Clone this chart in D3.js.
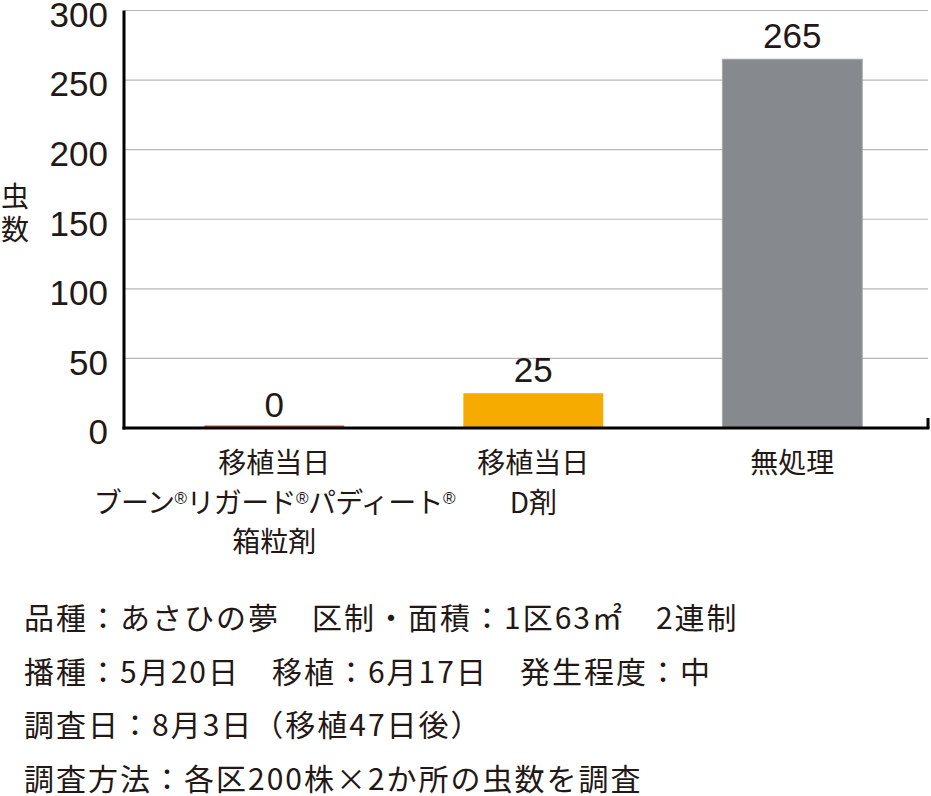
<!DOCTYPE html>
<html>
<head>
<meta charset="utf-8">
<script src="https://cdn.jsdelivr.net/npm/d3@7"></script>
<style>
  body { margin: 0; background: #fff; }
  svg text { fill: #231815; }
</style>
</head>
<body>
<div id="plot"></div>
<script>
// Chart data
var categories = ["a", "b", "c"];
var categoryLines = [
  ["移植当日", "ブーン®リガード®パディート®", "箱粒剤"],
  ["移植当日", "D剤"],
  ["無処理"]
];
var values = [0, 25, 265];
var barColors = ["#e0562a", "#f5ab00", "#868a8e"];
var yTicks = [0, 50, 100, 150, 200, 250, 300];
var yLabel = ["虫", "数"];
var notes = [
  "品種：あさひの夢　区制・面積：1区63㎡　2連制",
  "播種：5月20日　移植：6月17日　発生程度：中",
  "調査日：8月3日（移植47日後）",
  "調査方法：各区200株×2か所の虫数を調査"
];

// SVG area
var svgWidth = 931;
var svgHeight = 796;

var chartMargin = { top: 10.5, right: 3, bottom: 368, left: 124 };
var chartWidth = svgWidth - chartMargin.left - chartMargin.right;
var chartHeight = svgHeight - chartMargin.top - chartMargin.bottom;

var svg = d3.select("#plot")
  .append("svg")
  .attr("width", svgWidth)
  .attr("height", svgHeight);

var chartGroup = svg.append("g")
  .attr("transform", `translate(${chartMargin.left}, ${chartMargin.top})`);

var latin = "'Liberation Sans', Arial, sans-serif";
var cjk = "'Noto Sans CJK JP', sans-serif";

// Scales
var xBandScale = d3.scaleBand()
  .domain(categories)
  .range([0, chartWidth])
  .paddingInner(0.46)
  .paddingOuter(0.282)
  .align(0.55);

var yLinearScale = d3.scaleLinear()
  .domain([0, 300])
  .range([chartHeight, 0]);

// gridlines
chartGroup.append("g")
  .selectAll("line")
  .data(yTicks.slice(1))
  .enter()
  .append("line")
  .attr("x1", 0)
  .attr("x2", chartWidth)
  .attr("y1", d => yLinearScale(d))
  .attr("y2", d => yLinearScale(d))
  .attr("stroke", "#b8b8b8")
  .attr("stroke-width", 1.2);

// left axis
var leftAxis = d3.axisLeft(yLinearScale).tickValues(yTicks).tickSize(0).tickPadding(16);
var yAxisG = chartGroup.append("g").call(leftAxis);
yAxisG.select(".domain").remove();
yAxisG.selectAll("text")
  .attr("font-family", latin)
  .attr("font-size", 35)
  .attr("dy", "0.45em")
  .style("fill", "#231815");

chartGroup.append("line")
  .attr("x1", 0).attr("x2", 0)
  .attr("y1", 0).attr("y2", chartHeight + 1.5)
  .attr("stroke", "#000")
  .attr("stroke-width", 3);

// bars
chartGroup.selectAll(".bar")
  .data(values)
  .enter()
  .append("rect")
  .attr("class", "bar")
  .attr("x", (d, i) => xBandScale(categories[i]))
  .attr("y", d => Math.min(yLinearScale(d), chartHeight - 2.5))
  .attr("width", xBandScale.bandwidth())
  .attr("height", d => Math.max(chartHeight - yLinearScale(d), 2.5))
  .attr("fill", (d, i) => barColors[i])
  .attr("stroke", (d, i) => i == 2 ? "#a3a7aa" : "none")
  .attr("stroke-width", 1);

// value labels
chartGroup.selectAll(".val")
  .data(values)
  .enter()
  .append("text")
  .attr("class", "val")
  .attr("x", (d, i) => xBandScale(categories[i]) + xBandScale.bandwidth() / 2)
  .attr("y", d => yLinearScale(d) - 11)
  .attr("text-anchor", "middle")
  .attr("font-family", latin)
  .attr("font-size", 35)
  .text(d => d);

// bottom axis
chartGroup.append("line")
  .attr("x1", -1.5).attr("x2", chartWidth + 1.5)
  .attr("y1", chartHeight).attr("y2", chartHeight)
  .attr("stroke", "#000")
  .attr("stroke-width", 3);
chartGroup.append("line")
  .attr("x1", chartWidth).attr("x2", chartWidth)
  .attr("y1", chartHeight - 10).attr("y2", chartHeight)
  .attr("stroke", "#000")
  .attr("stroke-width", 3);

// category labels, one text per line, ® as small raised tspan
categoryLines.forEach(function(lines, i) {
  var cx = xBandScale(categories[i]) + xBandScale.bandwidth() / 2;
  lines.forEach(function(line, j) {
    var t = chartGroup.append("text")
      .attr("x", cx)
      .attr("y", chartHeight + 45 + j * 39.5)
      .attr("text-anchor", "middle")
      .attr("font-family", cjk)
      .attr("font-size", 28)
      .attr("letter-spacing", line.indexOf("®") >= 0 ? -0.6 : 0);
    line.split("®").forEach(function(part, k, arr) {
      t.append("tspan").text(part);
      if (k < arr.length - 1) {
        t.append("tspan")
          .attr("font-size", 17)
          .attr("font-family", latin)
          .attr("baseline-shift", "9")
          .text("®");
      }
    });
  });
});

// y label
yLabel.forEach(function(ch, i) {
  svg.append("text")
    .attr("x", 1)
    .attr("y", 207 + i * 33)
    .attr("font-family", cjk)
    .attr("font-size", 28)
    .text(ch);
});

// notes
svg.append("g")
  .selectAll("text")
  .data(notes)
  .enter()
  .append("text")
  .attr("x", 24)
  .attr("y", (d, i) => 629 + i * 53.7)
  .attr("font-family", cjk)
  .attr("font-size", 30)
  .attr("letter-spacing", 2)
  .text(d => d);
</script>
</body>
</html>
